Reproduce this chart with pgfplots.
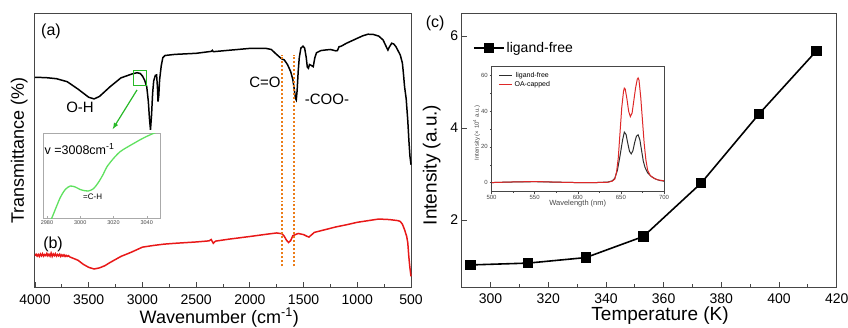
\documentclass[border=0pt]{standalone}
\usepackage{fontspec}
\setmainfont{Liberation Sans}
\usepackage{pgfplots}
\pgfplotsset{compat=1.18}
\definecolor{frm}{RGB}{70,70,70}
\definecolor{redb}{RGB}{232,24,24}
\definecolor{grn}{RGB}{95,225,95}
\definecolor{grnd}{RGB}{40,185,40}
\definecolor{org}{RGB}{235,125,25}
\definecolor{insred}{RGB}{222,40,40}
\definecolor{insblk}{RGB}{45,45,45}
\definecolor{lgray}{RGB}{170,170,170}
\newcommand{\fs}[1]{\fontsize{#1bp}{#1bp}\selectfont}
\begin{document}
\begin{tikzpicture}[x=1bp,y=1bp]
%%%%%%%%%%%%%%%% panel (a)/(b)
\begin{axis}[
  at={(35bp,40bp)}, anchor=south west, scale only axis,
  width=376bp, height=273bp,
  x dir=reverse, xmin=500, xmax=4000, ymin=0, ymax=100,
  xtick={500,1000,...,4000}, minor x tick num=1, ytick=\empty,
  tick align=inside, xtick pos=bottom, major tick length=5bp, minor tick length=3bp,
  axis line style={frm, line width=1pt}, tick style={frm, line width=0.8pt},
  /pgf/number format/assume math mode=true,
  /pgf/number format/set thousands separator={},
  xticklabel style={font=\fs{14}, yshift=-4bp},
  xlabel={Wavenumber (cm\textsuperscript{-1})},
  ylabel={Transmittance (\%)},
  every axis x label/.style={at={(axis description cs:0.49,-0.112)}, anchor=center, font=\fs{18}},
  every axis y label/.style={at={(axis description cs:-0.042,0.5)}, anchor=center, rotate=90, font=\fs{18}},
  clip=false,
]
\addplot[black, line width=1.5pt] coordinates {
(4000,76.8)(3900,76.7)(3800,76.3)(3700,75.2)(3600,72.5)(3500,69.5)(3450,68.9)(3400,69.8)
(3300,73.4)(3200,76.6)(3100,78.0)(3050,78.5)(3020,78.2)(3000,77.3)(2980,75.8)(2960,73.4)
(2945,68)(2935,62)(2925,57.6)(2915,63)(2905,71)(2895,75.5)(2880,77.5)(2868,77.7)(2860,73)
(2855,67.9)(2848,70)(2840,75.9)(2825,81)(2810,84)(2790,84.8)(2700,85.2)(2500,85.6)(2360,86.3)
(2350,86.7)(2340,86.2)(2000,87.4)(1850,87.4)(1800,87.0)(1760,85.5)(1720,84.1)(1700,83.5)
(1680,83.2)(1650,81.5)(1620,78.9)(1600,76)(1590,73.4)(1575,69)(1568,68.5)(1560,72)(1550,79)
(1540,84)(1525,87.5)(1505,88.2)(1490,87.5)(1475,84)(1465,80.5)(1455,80.1)(1445,81.5)(1430,81.2)
(1410,80.7)(1395,84)(1380,85.8)(1340,86.6)(1300,86.8)(1250,87)(1200,86.5)(1185,86.6)(1170,88)
(1150,88.2)(1100,89.3)(1050,90.2)(1000,91.1)(950,92)(900,92.6)(850,92.5)(800,91.9)(760,90.5)
(730,88)(715,86.8)(700,88)(680,89.3)(660,89)(640,88)(620,86.5)(600,85)(580,82)(570,78)(560,73.4)
(545,69)(530,61)(520,53.9)(510,48)(500,44.8)};
\addplot[redb, line width=1.5pt] coordinates {
(4000,11.5)(3990,12.0)(3980,11.3)(3970,11.9)(3960,11.2)(3950,12.1)(3940,11.4)(3930,12.2)
(3920,11.3)(3910,11.9)(3900,11.5)(3890,12.3)(3880,11.4)(3870,12.0)(3860,11.3)(3850,12.4)
(3840,11.2)(3830,12.1)(3820,11.5)(3810,12.2)(3800,11.3)(3790,11.9)(3780,11.4)(3770,12.0)
(3760,11.2)(3750,11.8)(3740,11.3)(3730,11.8)(3720,11.2)(3710,11.6)(3700,11.2)(3690,11.5)
(3675,11.0)(3650,10.6)(3600,9.8)(3550,8.3)(3500,7.2)(3450,6.6)(3400,7.0)(3350,7.8)(3300,9.0)(3200,11.2)
(3100,12.8)(3000,14.6)(2900,15.2)(2800,15.7)(2700,16.0)(2500,16.5)(2380,16.9)(2360,17.4)
(2340,16.0)(2320,16.8)(2200,17.5)(2000,18.5)(1850,19.3)(1750,19.8)(1700,19.5)(1680,18.6)
(1660,17.2)(1640,16.3)(1620,17.0)(1600,18.8)(1570,19.3)(1550,19.6)(1500,19.2)(1470,18.6)
(1450,18.3)(1420,19.3)(1400,20.0)(1300,21.0)(1200,22.0)(1100,22.8)(1000,23.7)(900,24.3)
(800,24.9)(700,24.7)(620,24.3)(600,24.0)(580,23)(560,21.0)(540,18.5)(530,16.2)(520,11)(510,7)(500,3.9)};
% orange dotted markers
\addplot[org, line width=2pt, dotted] coordinates {(1704,7.6)(1704,85)};
\addplot[org, line width=2pt, dotted] coordinates {(1586,7.6)(1586,85)};
% green box and arrow
\addplot[grnd, line width=1.2pt] coordinates {(3085,73.9)(2960,73.9)(2960,79.3)(3085,79.3)(3085,73.9)};
\addplot[grnd, line width=1.2pt, -latex] coordinates {(3050,72.2)(3277,57.8)};
\node[font=\fs{16}] at (axis cs:3851,93.8) {(a)};
\node[font=\fs{16}] at (axis cs:3832,15.8) {(b)};
\node[font=\fs{15}] at (axis cs:3581,65.9) {O-H};
\node[font=\fs{15}] at (axis cs:1859,75.1) {C=O};
\node[font=\fs{15}] at (axis cs:1282,68.9) {-COO-};
\end{axis}
%%%%%%%%%%%%%%%% inset (a)
\begin{axis}[
  at={(43.3bp,109bp)}, anchor=south west, scale only axis,
  width=116.7bp, height=85bp,
  xmin=2977.8, xmax=3048, ymin=0, ymax=100,
  xtick={2980,3000,3020,3040}, ytick=\empty,
  tick align=inside, xtick pos=bottom, major tick length=2bp,
  axis line style={lgray, line width=0.6pt}, tick style={lgray},
  axis background/.style={fill=white},
  /pgf/number format/assume math mode=true,
  /pgf/number format/set thousands separator={},
  xticklabel style={font=\fs{5.5}, text=frm, yshift=1bp},
  clip=true,
]
\addplot[grn, line width=1.3pt, smooth] coordinates {
(2980,-6)(2982.3,-2.4)(2985,10)(2988,24)(2991,33.5)(2994,37.6)(2997,36.5)(3000,33.5)(3003,32)
(3005,31.8)(3008,34.5)(3011,42)(3014,52)(3016,60)(3020,70)(3024,78)(3028,83)(3032,87.5)
(3036,92)(3040,96)(3044,99.5)(3048,103)};
\node[font=\fs{12.5}, anchor=west, inner sep=0pt] at (axis cs:2978.5,81) {v =3008cm\textsuperscript{-1}};
\node[font=\fs{8}] at (axis cs:3007.5,24.7) {=C-H};
\end{axis}
%%%%%%%%%%%%%%%% panel (c)
\begin{axis}[
  at={(461.7bp,40bp)}, anchor=south west, scale only axis,
  width=375bp, height=273bp,
  xmin=290, xmax=420, ymin=0.54, ymax=6.48,
  xtick={300,320,...,420}, minor x tick num=1, ytick={2,4,6},
  tick align=inside, xtick pos=bottom, ytick pos=left,
  major tick length=5bp, minor tick length=3bp,
  axis line style={frm, line width=1pt}, tick style={frm, line width=0.8pt},
  /pgf/number format/assume math mode=true,
  xticklabel style={font=\fs{14}, yshift=-3bp},
  yticklabel style={font=\fs{14}},
  xlabel={Temperature (K)},
  ylabel={Intensity (a.u.)},
  every axis x label/.style={at={(axis description cs:0.529,-0.103)}, anchor=center, font=\fs{19}},
  every axis y label/.style={at={(axis description cs:-0.08,0.447)}, anchor=center, rotate=90, font=\fs{19}},
  legend style={at={(axis description cs:0.03,0.875)}, anchor=west, draw=none, fill=none,
     font=\fs{14}, inner sep=0pt},
  legend image code/.code={\draw[mark repeat=2,mark phase=2,#1] plot coordinates {(0bp,0bp)(15bp,0bp)(30bp,0bp)};},
  clip=false,
]
\addplot[black, line width=1.6pt, mark=square*, mark size=4.4bp, mark options={solid}] coordinates {
(293,1.02)(313,1.06)(333,1.18)(353,1.64)(373,2.80)(393,4.30)(413,5.68)};
\addlegendentry{ligand-free}
\node[font=\fs{16}] at (axis description cs:-0.071,0.967) {(c)};
\end{axis}
%%%%%%%%%%%%%%%% inset (c)
\begin{axis}[
  at={(491.5bp,135.5bp)}, anchor=south west, scale only axis,
  width=172.5bp, height=124.8bp,
  xmin=500, xmax=700, ymin=-5, ymax=65,
  xtick={500,550,...,700}, ytick={0,20,40,60}, minor x tick num=1, minor y tick num=1,
  tick align=outside, xtick pos=bottom, ytick pos=left,
  major tick length=2bp, minor tick length=1.2bp,
  axis line style={frm, line width=0.5pt}, tick style={frm, line width=0.4pt},
  axis background/.style={fill=white},
  /pgf/number format/assume math mode=true,
  xticklabel style={font=\fs{6}, text=frm, inner sep=1.2bp},
  yticklabel style={font=\fs{6}, text=frm, inner sep=1.5bp},
  xlabel={Wavelength (nm)},
  ylabel={Intensity (\texttimes\ 10\textsuperscript{4} a.u.)},
  every axis x label/.style={at={(axis description cs:0.5,-0.1)}, anchor=center, font=\fs{7.5}, text=frm},
  every axis y label/.style={at={(axis description cs:-0.086,0.469)}, anchor=center, rotate=90, font=\fs{6}, text=frm},
  legend style={at={(axis description cs:0.04,0.975)}, anchor=north west, draw=none, fill=none,
     font=\fs{7}, inner sep=0pt, row sep=-1bp},
  legend image code/.code={\draw[#1] (0bp,0bp) -- (13bp,0bp);},
]
\addplot[insblk, line width=1pt] coordinates {
(500,0)(520,0.3)(550,0.5)(580,0.2)(600,0)(620,0)(635,0.3)(640,1)(643,2.5)(646,7)(649,15)(652,24)
(654,28.3)(656,27)(658,22)(660,17.5)(662,16.1)(664,18)(666,22.5)(668,26)(670,26.8)(672,24)(674,18)
(676,12)(678,8.5)(681,5.5)(685,3.5)(690,2)(695,1.2)(700,0.8)};
\addlegendentry{ligand-free}
\addplot[insred, line width=1pt] coordinates {
(500,0)(520,0.3)(550,0.6)(580,0.2)(600,0)(620,0)(635,0.2)(640,0.8)(643,2)(645,6)(647,14)(649,28)
(651,42)(653,51)(654,53)(655,52.5)(657,47)(659,40)(661,37)(663,39)(665,46)(667,53)(669,58)(670,58.7)
(671,57.5)(673,48)(675,35)(677,22)(679,12.7)(681,7)(684,4)(688,2.5)(693,1.5)(700,1)};
\addlegendentry{OA-capped}
\end{axis}
\pgfresetboundingbox
\useasboundingbox (0,0) rectangle (848,327);
\end{tikzpicture}
\end{document}
